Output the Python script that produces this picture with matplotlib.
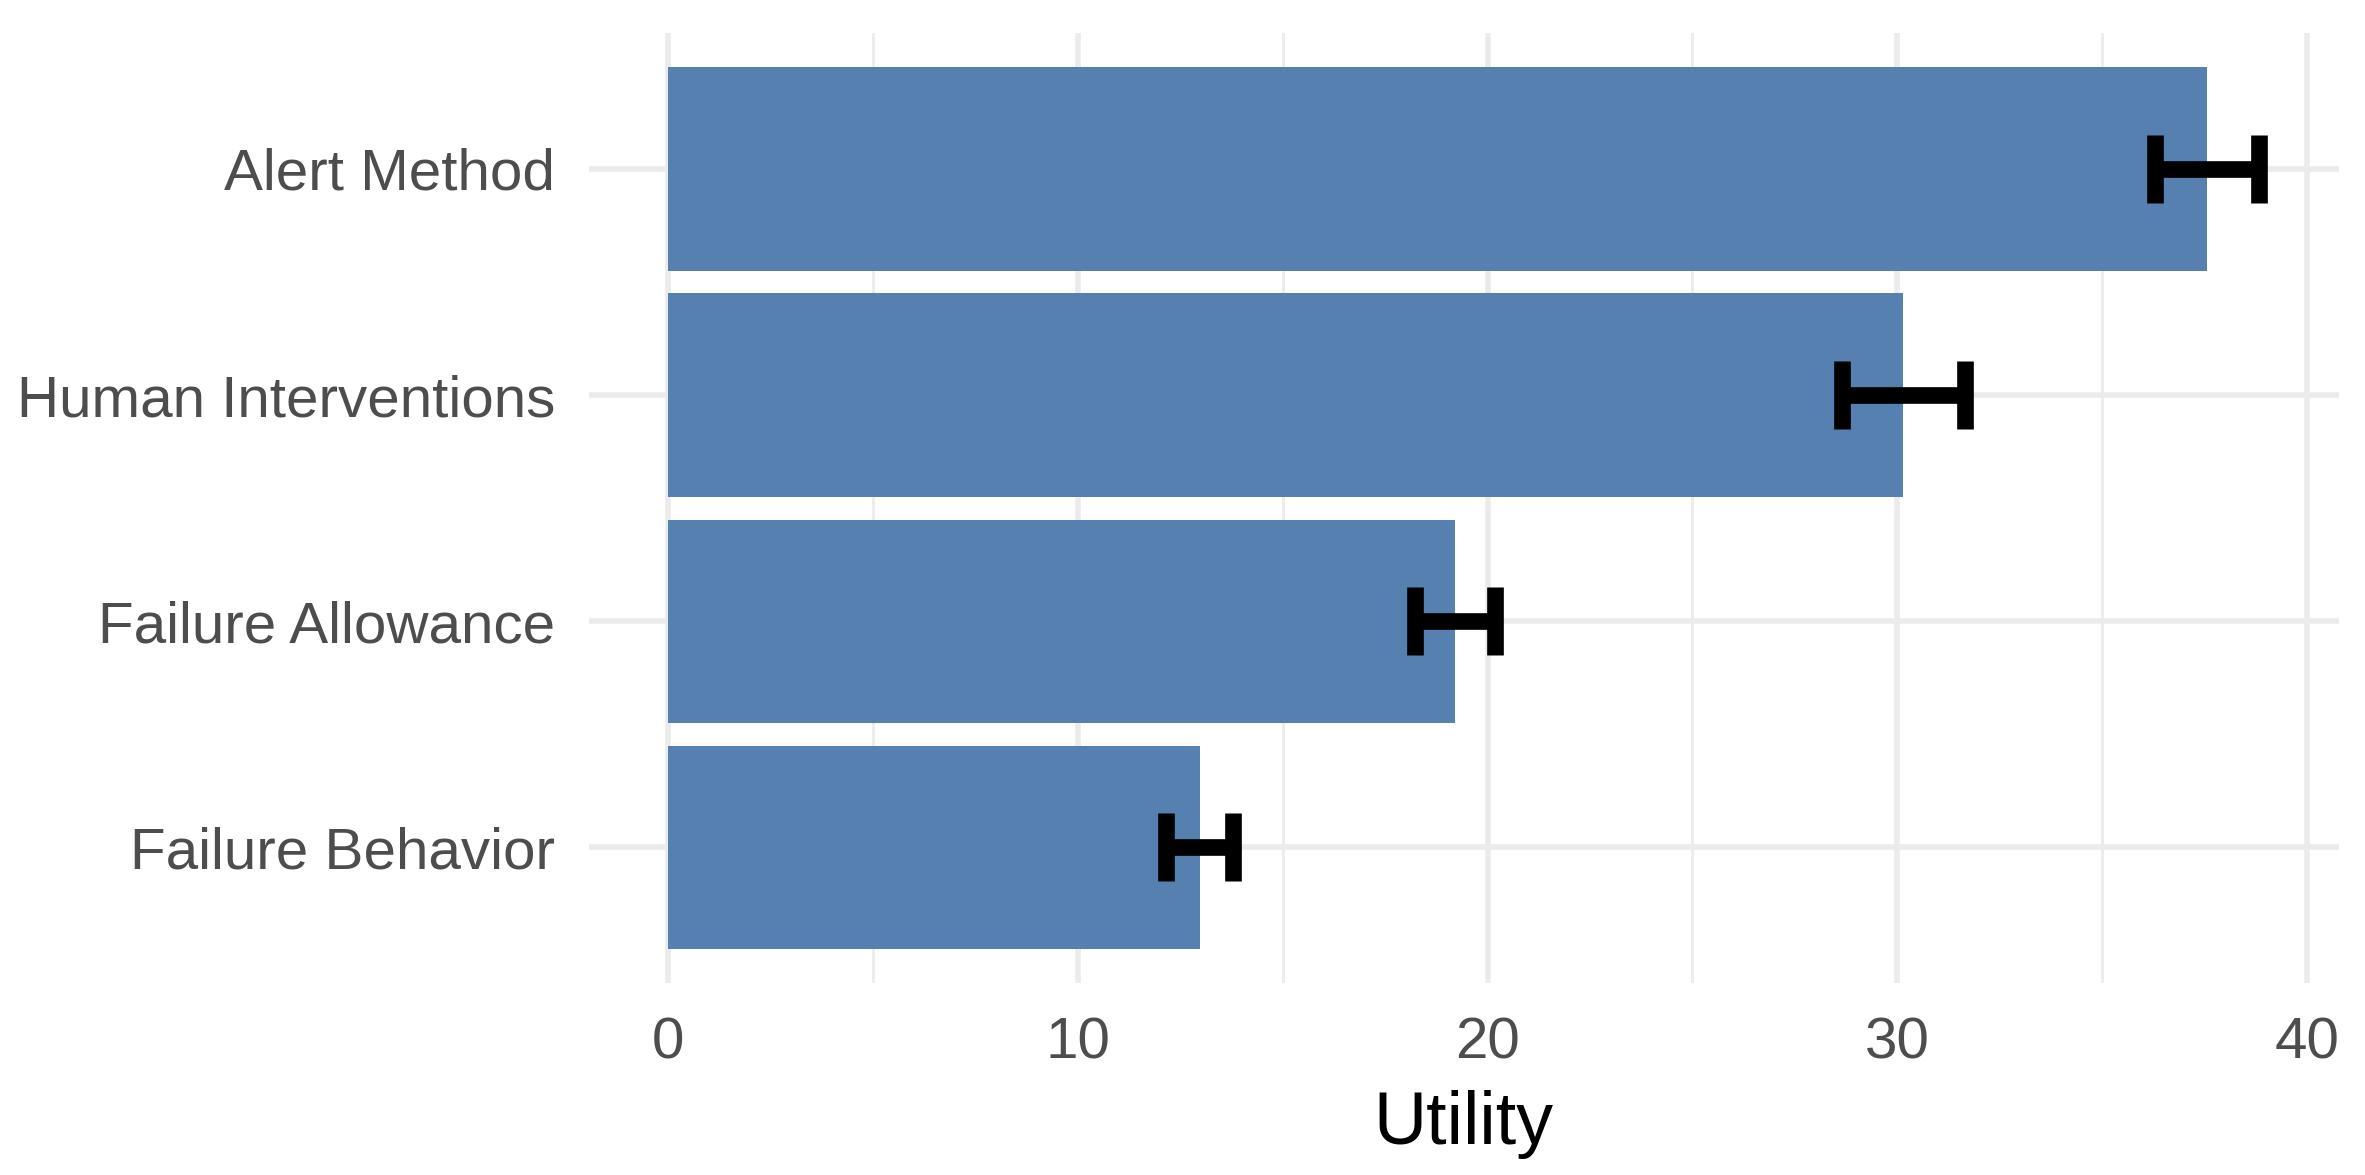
import matplotlib
matplotlib.use("Agg")
import matplotlib.pyplot as plt
from matplotlib.ticker import MultipleLocator

plt.rcParams['font.family'] = ['Liberation Sans', 'DejaVu Sans']

# Data (top to bottom as displayed)
categories = ["Alert Method", "Human Interventions", "Failure Allowance", "Failure Behavior"]
utility = [37.57, 30.15, 19.21, 12.98]
errors = [1.27, 1.51, 0.97, 0.82]
x_ticks = [0, 10, 20, 30, 40]

bar_color = "#5580B0"
grid_color = "#EBEBEB"
text_color = "#4D4D4D"

W, H, DPI = 2365, 1175, 100
fig = plt.figure(figsize=(W / DPI, H / DPI), dpi=DPI)
ax = fig.add_axes([588.5 / W, 1 - 983.2 / H, (2339 - 588.5) / W, (983.2 - 33.2) / H])

cats = categories[::-1]
vals = utility[::-1]
errs = errors[::-1]

ax.barh(cats, vals, height=0.9, color=bar_color, zorder=2)
ax.errorbar(vals, cats, xerr=errs, fmt='none', ecolor='black',
            elinewidth=12, capsize=24.5, capthick=12, zorder=3)

hi = max(v + e for v, e in zip(utility, errors))
ax.set_xlim(-0.05 * hi, hi * 1.05)
ax.set_ylim(-0.6, len(categories) - 0.4)

ax.set_xticks(x_ticks)
ax.xaxis.set_minor_locator(MultipleLocator(5))
ax.grid(which='major', axis='both', color=grid_color, linewidth=4.0, zorder=0)
ax.grid(which='minor', axis='x', color=grid_color, linewidth=2.0, zorder=0)
ax.set_axisbelow(True)

for s in ax.spines.values():
    s.set_visible(False)
ax.tick_params(axis='both', which='both', length=0)
ax.tick_params(axis='y', pad=24, labelsize=42, labelcolor=text_color)
ax.tick_params(axis='x', pad=24, labelsize=42, labelcolor=text_color)
ax.set_xlabel("Utility", fontsize=53, color='black', labelpad=14)

fig.savefig("out.png", dpi=DPI, facecolor='white')
